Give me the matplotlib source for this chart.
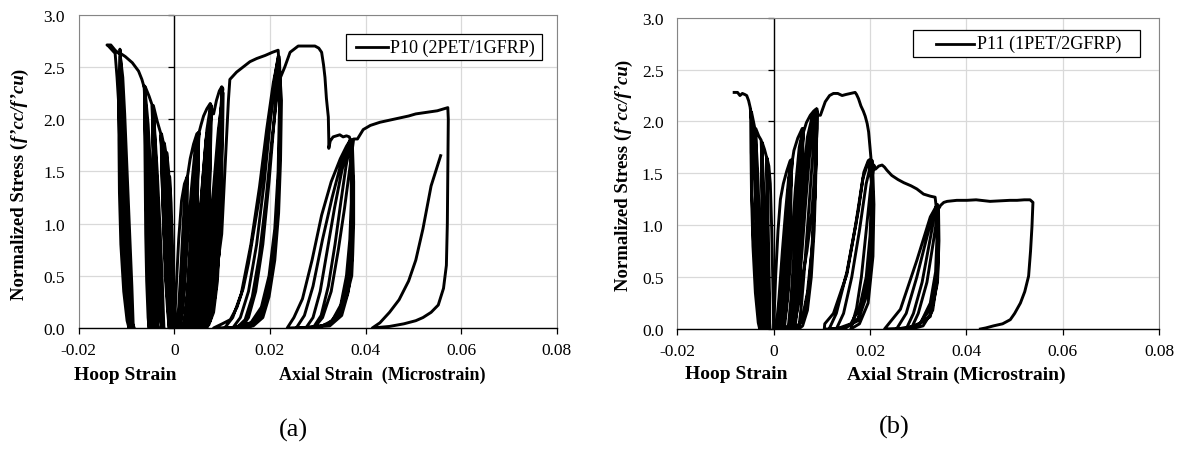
import numpy as np
import matplotlib.pyplot as plt
from matplotlib.patches import Rectangle
from matplotlib.lines import Line2D
from matplotlib.markers import TICKLEFT

plt.rcParams['font.family'] = 'Liberation Serif'

# axis values
x_ticks = [-0.02, 0, 0.02, 0.04, 0.06, 0.08]
x_tick_labels = ["-0.02", "0", "0.02", "0.04", "0.06", "0.08"]
y_ticks = [0.0, 0.5, 1.0, 1.5, 2.0, 2.5, 3.0]
y_tick_labels = ["0.0", "0.5", "1.0", "1.5", "2.0", "2.5", "3.0"]

# ---------------- P10 (2PET/1GFRP): (strain, normalized stress) ----------------
p10_hoop_env1 = [(0.0, 0.0), (-0.0002, 0.4), (-0.0004, 0.8), (-0.0007, 1.2), (-0.0010, 1.45)]
p10_hoop_loops1 = [(-0.0009, 1.1), (-0.0007, 0.7), (-0.0004, 0.3), (-0.0002, 0.08), (-0.0001, 0.0),
                   (-0.0003, 0.35), (-0.0006, 0.8), (-0.0009, 1.2), (-0.0012, 1.5), (-0.0016, 1.68),
                   (-0.0015, 1.3), (-0.0013, 0.85), (-0.0010, 0.4), (-0.0007, 0.1), (-0.0004, 0.0),
                   (-0.0006, 0.35), (-0.0009, 0.8), (-0.0013, 1.3), (-0.0017, 1.65), (-0.0021, 1.77),
                   (-0.0020, 1.4), (-0.0018, 0.95), (-0.0014, 0.45), (-0.0010, 0.12), (-0.0007, 0.0),
                   (-0.0009, 0.35), (-0.0013, 0.85), (-0.0017, 1.35), (-0.0022, 1.75), (-0.0027, 1.86),
                   (-0.0026, 1.5), (-0.0023, 1.0), (-0.0019, 0.5), (-0.0014, 0.15), (-0.0011, 0.0),
                   (-0.0013, 0.3), (-0.0017, 0.8), (-0.0022, 1.35), (-0.0028, 1.84), (-0.0026, 1.45),
                   (-0.0022, 0.95), (-0.0017, 0.45), (-0.0012, 0.1), (-0.0009, 0.0), (-0.0012, 0.35),
                   (-0.0016, 0.85), (-0.0021, 1.35), (-0.0029, 1.87)]
p10_hoop_env2 = [(-0.0036, 1.98), (-0.0044, 2.13)]
p10_hoop_loops2 = [(-0.0044, 1.75), (-0.0042, 1.3), (-0.0039, 0.8), (-0.0034, 0.35), (-0.0029, 0.08),
                   (-0.0026, 0.0), (-0.0028, 0.4), (-0.0032, 0.9), (-0.0037, 1.45), (-0.0042, 1.9),
                   (-0.0045, 2.12), (-0.0043, 1.7), (-0.0040, 1.2), (-0.0036, 0.7), (-0.0031, 0.28),
                   (-0.0025, 0.05), (-0.0022, 0.0), (-0.0025, 0.4), (-0.0030, 0.95), (-0.0036, 1.5),
                   (-0.0042, 1.95), (-0.0046, 2.13), (-0.0045, 1.7), (-0.0044, 1.2), (-0.0042, 0.7),
                   (-0.0039, 0.3), (-0.0036, 0.05), (-0.0034, 0.0), (-0.0036, 0.4), (-0.0039, 0.9),
                   (-0.0042, 1.4), (-0.0045, 1.9), (-0.0047, 2.14)]
p10_hoop_env3 = [(-0.0053, 2.22), (-0.0061, 2.31)]
p10_hoop_loops3 = [(-0.0061, 1.95), (-0.0060, 1.5), (-0.0058, 1.0), (-0.0055, 0.5), (-0.0051, 0.15),
                   (-0.0049, 0.0), (-0.0050, 0.4), (-0.0053, 0.95), (-0.0057, 1.5), (-0.0060, 2.0),
                   (-0.0062, 2.3), (-0.0060, 1.9), (-0.0058, 1.4), (-0.0055, 0.85), (-0.0050, 0.4),
                   (-0.0045, 0.1), (-0.0042, 0.0), (-0.0044, 0.4), (-0.0048, 0.95), (-0.0053, 1.5),
                   (-0.0058, 2.0), (-0.0063, 2.32), (-0.0060, 1.85), (-0.0057, 1.3), (-0.0053, 0.75),
                   (-0.0048, 0.3), (-0.0040, 0.05), (-0.0037, 0.0), (-0.0040, 0.4), (-0.0044, 0.9),
                   (-0.0049, 1.45), (-0.0055, 1.95), (-0.0062, 2.31), (-0.0062, 1.9), (-0.0061, 1.4),
                   (-0.0060, 0.9), (-0.0058, 0.45), (-0.0055, 0.1), (-0.0053, 0.0), (-0.0054, 0.4),
                   (-0.0056, 0.9), (-0.0059, 1.45), (-0.0061, 1.95), (-0.0063, 2.3)]
p10_hoop_env4 = [(-0.0068, 2.38), (-0.0075, 2.46), (-0.0088, 2.54), (-0.0103, 2.60), (-0.0113, 2.63),
                 (-0.0114, 2.67), (-0.0113, 2.62)]
p10_hoop_loops4 = [(-0.0114, 2.35), (-0.0114, 1.9), (-0.0112, 1.3), (-0.0108, 0.75), (-0.0101, 0.3),
                   (-0.0095, 0.06), (-0.0092, 0.0), (-0.0094, 0.35), (-0.0098, 0.85), (-0.0103, 1.45),
                   (-0.0107, 2.0), (-0.0111, 2.45), (-0.0113, 2.6), (-0.0113, 2.3), (-0.0112, 1.8),
                   (-0.0110, 1.25), (-0.0105, 0.7), (-0.0098, 0.25), (-0.0090, 0.04), (-0.0086, 0.0),
                   (-0.0089, 0.4), (-0.0094, 0.95), (-0.0099, 1.5), (-0.0104, 2.05), (-0.0108, 2.4),
                   (-0.0113, 2.6), (-0.0116, 2.3), (-0.0116, 1.8), (-0.0115, 1.3), (-0.0112, 0.8),
                   (-0.0106, 0.35), (-0.0099, 0.07), (-0.0095, 0.0), (-0.0098, 0.4), (-0.0102, 0.95),
                   (-0.0106, 1.5), (-0.0109, 2.0), (-0.0112, 2.4), (-0.0114, 2.62)]
p10_hoop_env5 = [(-0.0124, 2.66), (-0.0133, 2.71), (-0.0141, 2.71)]
p10_hoop_unload = [(-0.0138, 2.70), (-0.0124, 2.63), (-0.0120, 2.4), (-0.0117, 2.18), (-0.0114, 1.7),
                   (-0.0110, 1.22), (-0.0104, 0.7), (-0.0096, 0.26), (-0.0090, 0.07), (-0.0084, 0.0)]

p10_axial_env1 = [(0.0, 0.0), (0.0004, 0.4), (0.0009, 0.85), (0.0015, 1.22), (0.0021, 1.38),
                  (0.0026, 1.44)]
p10_axial_loops1 = [(0.0026, 1.15), (0.0024, 0.8), (0.0021, 0.45), (0.0017, 0.18), (0.0012, 0.05),
                    (0.0008, 0.0), (0.0012, 0.15), (0.0016, 0.5), (0.0020, 0.95), (0.0024, 1.3),
                    (0.0027, 1.45), (0.0026, 1.1), (0.0023, 0.7), (0.0019, 0.35), (0.0013, 0.1),
                    (0.0004, 0.0), (0.0009, 0.2), (0.0014, 0.6), (0.0019, 1.05), (0.0023, 1.35),
                    (0.0028, 1.47)]
p10_axial_env2 = [(0.0033, 1.62), (0.0040, 1.76), (0.0047, 1.86), (0.0050, 1.87)]
p10_axial_loops2 = [(0.0049, 1.55), (0.0047, 1.1), (0.0043, 0.6), (0.0037, 0.25), (0.0031, 0.06),
                    (0.0025, 0.0), (0.0031, 0.2), (0.0037, 0.6), (0.0043, 1.15), (0.0048, 1.6),
                    (0.0051, 1.86), (0.0049, 1.5), (0.0046, 1.0), (0.0041, 0.55), (0.0034, 0.2),
                    (0.0026, 0.05), (0.0018, 0.0), (0.0025, 0.25), (0.0032, 0.7), (0.0039, 1.2),
                    (0.0045, 1.6), (0.0051, 1.87), (0.0050, 1.6), (0.0048, 1.2), (0.0045, 0.75),
                    (0.0040, 0.35), (0.0032, 0.1), (0.0021, 0.0), (0.0028, 0.35), (0.0035, 0.85),
                    (0.0042, 1.35), (0.0048, 1.75), (0.0051, 1.87), (0.0048, 1.45), (0.0044, 0.95),
                    (0.0038, 0.5), (0.0030, 0.18), (0.0020, 0.04), (0.0012, 0.0), (0.0019, 0.3),
                    (0.0027, 0.8), (0.0035, 1.3), (0.0043, 1.7), (0.0052, 1.88)]
p10_axial_env3 = [(0.0056, 1.95), (0.0061, 2.03), (0.0068, 2.10), (0.0075, 2.15)]
p10_axial_loops3 = [(0.0075, 1.85), (0.0073, 1.35), (0.0069, 0.8), (0.0063, 0.35), (0.0055, 0.1),
                    (0.0045, 0.0), (0.0052, 0.2), (0.0059, 0.6), (0.0066, 1.2), (0.0071, 1.7),
                    (0.0076, 2.12), (0.0076, 1.9), (0.0074, 1.45), (0.0071, 0.95), (0.0066, 0.5),
                    (0.0058, 0.2), (0.0047, 0.04), (0.0034, 0.0), (0.0042, 0.3), (0.0051, 0.85),
                    (0.0060, 1.45), (0.0068, 1.9), (0.0076, 2.14), (0.0075, 1.8), (0.0072, 1.25),
                    (0.0067, 0.7), (0.0060, 0.3), (0.0050, 0.08), (0.0038, 0.0), (0.0046, 0.25),
                    (0.0054, 0.7), (0.0062, 1.25), (0.0069, 1.75), (0.0077, 2.13), (0.0076, 1.8),
                    (0.0073, 1.2), (0.0069, 0.65), (0.0062, 0.25), (0.0052, 0.05), (0.0042, 0.0),
                    (0.0049, 0.2), (0.0057, 0.6), (0.0065, 1.1), (0.0072, 1.65), (0.0077, 2.1),
                    (0.0074, 1.75), (0.0070, 1.15), (0.0064, 0.6), (0.0056, 0.25), (0.0045, 0.06),
                    (0.0030, 0.0), (0.0038, 0.25), (0.0047, 0.75), (0.0057, 1.3), (0.0066, 1.8),
                    (0.0078, 2.1)]
p10_axial_env4 = [(0.0082, 2.05), (0.0088, 2.18), (0.0094, 2.27), (0.0099, 2.31)]
p10_axial_loops4 = [(0.0099, 2.0), (0.0097, 1.5), (0.0094, 0.95), (0.0089, 0.5), (0.0081, 0.18),
                    (0.0068, 0.0), (0.0075, 0.2), (0.0083, 0.6), (0.0090, 1.15), (0.0095, 1.7),
                    (0.0100, 2.28), (0.0099, 1.95), (0.0096, 1.45), (0.0093, 0.95), (0.0087, 0.5),
                    (0.0078, 0.18), (0.0066, 0.03), (0.0053, 0.0), (0.0062, 0.25), (0.0073, 0.7),
                    (0.0084, 1.3), (0.0093, 1.85), (0.0100, 2.28), (0.0098, 1.95), (0.0095, 1.4),
                    (0.0091, 0.85), (0.0085, 0.4), (0.0075, 0.12), (0.0058, 0.0), (0.0067, 0.25),
                    (0.0077, 0.7), (0.0086, 1.25), (0.0094, 1.8), (0.0101, 2.3), (0.0100, 2.0),
                    (0.0098, 1.45), (0.0095, 0.9), (0.0090, 0.45), (0.0082, 0.15), (0.0072, 0.03),
                    (0.0063, 0.0), (0.0070, 0.2), (0.0079, 0.6), (0.0088, 1.15), (0.0096, 1.75),
                    (0.0101, 2.29), (0.0097, 1.9), (0.0093, 1.3), (0.0088, 0.75), (0.0080, 0.3),
                    (0.0068, 0.08), (0.0048, 0.0), (0.0058, 0.25), (0.0070, 0.75), (0.0082, 1.35),
                    (0.0092, 1.9), (0.0102, 2.25), (0.0101, 1.9), (0.0098, 1.3), (0.0093, 0.7),
                    (0.0085, 0.3), (0.0075, 0.07), (0.0062, 0.0), (0.0068, 0.1), (0.0085, 0.42),
                    (0.0099, 0.9), (0.0106, 1.54), (0.0111, 2.0), (0.0113, 2.18)]
p10_axial_env5 = [(0.0116, 2.38), (0.0130, 2.45), (0.0144, 2.50), (0.0158, 2.55), (0.0172, 2.58),
                  (0.0190, 2.61), (0.0205, 2.64), (0.0217, 2.66)]
p10_axial_loops5 = [(0.0221, 2.4), (0.0224, 2.18), (0.0222, 1.6), (0.0218, 1.1), (0.0210, 0.65),
                    (0.0198, 0.3), (0.0185, 0.1), (0.0165, 0.02), (0.0140, 0.0), (0.0155, 0.1),
                    (0.0170, 0.35), (0.0185, 0.8), (0.0198, 1.4), (0.0208, 1.95), (0.0215, 2.35),
                    (0.0220, 2.55), (0.0222, 2.2), (0.0220, 1.6), (0.0215, 1.05), (0.0205, 0.6),
                    (0.0192, 0.27), (0.0176, 0.08), (0.0155, 0.01), (0.0122, 0.0), (0.0138, 0.1),
                    (0.0155, 0.35), (0.0172, 0.8), (0.0188, 1.4), (0.0200, 1.95), (0.0212, 2.4),
                    (0.0219, 2.6), (0.0221, 2.2), (0.0219, 1.55), (0.0213, 1.0), (0.0202, 0.55),
                    (0.0188, 0.24), (0.0170, 0.07), (0.0140, 0.01), (0.0105, 0.0), (0.0122, 0.1),
                    (0.0140, 0.33), (0.0160, 0.8), (0.0178, 1.35), (0.0193, 1.9), (0.0207, 2.35),
                    (0.0218, 2.6), (0.0220, 2.15), (0.0217, 1.5), (0.0210, 0.95), (0.0198, 0.5),
                    (0.0182, 0.2), (0.0160, 0.05), (0.0125, 0.005), (0.0082, 0.0), (0.0100, 0.04),
                    (0.0117, 0.08), (0.0131, 0.2), (0.0144, 0.38), (0.0155, 0.62), (0.0165, 0.9),
                    (0.0176, 1.2), (0.0186, 1.54), (0.0196, 1.88), (0.0204, 2.18), (0.0211, 2.42),
                    (0.0217, 2.6), (0.0221, 2.1), (0.0219, 1.5), (0.0214, 1.0), (0.0205, 0.6),
                    (0.0194, 0.3), (0.0180, 0.1), (0.0160, 0.02), (0.0130, 0.0), (0.0148, 0.08),
                    (0.0163, 0.3), (0.0178, 0.7), (0.0192, 1.25), (0.0204, 1.8), (0.0214, 2.2),
                    (0.0222, 2.4)]
p10_axial_env6 = [(0.0231, 2.50), (0.0242, 2.64), (0.0259, 2.70), (0.0294, 2.70), (0.0302, 2.68),
                  (0.0308, 2.64), (0.0312, 2.52), (0.0315, 2.40), (0.0318, 2.2), (0.0322, 2.02),
                  (0.0323, 1.80), (0.0323, 1.72), (0.0326, 1.79), (0.0332, 1.83), (0.0339, 1.84),
                  (0.0346, 1.85), (0.0353, 1.83), (0.0360, 1.84), (0.0366, 1.83), (0.0368, 1.80)]
p10_axial_loops6 = [(0.0370, 1.55), (0.0370, 1.2), (0.0367, 0.85), (0.0360, 0.5), (0.0348, 0.22),
                    (0.0330, 0.07), (0.0305, 0.01), (0.0275, 0.0), (0.0290, 0.1), (0.0305, 0.35),
                    (0.0320, 0.75), (0.0335, 1.15), (0.0350, 1.5), (0.0362, 1.72), (0.0370, 1.80),
                    (0.0372, 1.5), (0.0371, 1.1), (0.0368, 0.75), (0.0360, 0.42), (0.0346, 0.17),
                    (0.0325, 0.04), (0.0290, 0.0), (0.0307, 0.12), (0.0322, 0.4), (0.0336, 0.8),
                    (0.0348, 1.2), (0.0359, 1.55), (0.0369, 1.78), (0.0372, 1.45), (0.0372, 1.05),
                    (0.0369, 0.7), (0.0361, 0.38), (0.0345, 0.14), (0.0320, 0.03), (0.0280, 0.005),
                    (0.0236, 0.0), (0.0250, 0.1), (0.0268, 0.28), (0.0288, 0.65), (0.0308, 1.08),
                    (0.0328, 1.4), (0.0347, 1.62), (0.0360, 1.74), (0.0368, 1.80), (0.0373, 1.45),
                    (0.0373, 1.0), (0.0371, 0.65), (0.0364, 0.35), (0.0350, 0.12), (0.0325, 0.02),
                    (0.0255, 0.0), (0.0272, 0.12), (0.0290, 0.4), (0.0310, 0.85), (0.0330, 1.25),
                    (0.0350, 1.6), (0.0366, 1.78), (0.0372, 1.80), (0.0375, 1.4), (0.0375, 1.0),
                    (0.0373, 0.7), (0.0371, 0.5), (0.0360, 0.3), (0.0347, 0.15), (0.0325, 0.04),
                    (0.0292, 0.0), (0.0310, 0.1), (0.0328, 0.35), (0.0343, 0.75), (0.0356, 1.15),
                    (0.0366, 1.5), (0.0375, 1.81)]
p10_axial_env7 = [(0.0383, 1.81), (0.0395, 1.90), (0.0410, 1.94), (0.0430, 1.97), (0.0450, 1.99),
                  (0.0470, 2.01), (0.0490, 2.03), (0.0505, 2.05), (0.0520, 2.06), (0.0535, 2.07),
                  (0.0550, 2.08), (0.0565, 2.10), (0.0572, 2.11)]
p10_axial_unload = [(0.0573, 2.0), (0.0572, 1.5), (0.0571, 1.0), (0.0569, 0.6), (0.0563, 0.38),
                    (0.0552, 0.22), (0.0537, 0.15), (0.0520, 0.10), (0.0505, 0.07), (0.0480, 0.04),
                    (0.0450, 0.015), (0.0414, 0.0)]
p10_axial_reload = [(0.0430, 0.05), (0.0450, 0.15), (0.0470, 0.27), (0.0490, 0.45), (0.0505, 0.65),
                    (0.0520, 0.95), (0.0537, 1.36), (0.0550, 1.55), (0.0557, 1.65)]

# ---------------- P11 (1PET/2GFRP) ----------------
p11_hoop_env1 = [(0.0, 0.0), (-0.0002, 0.5), (-0.0004, 0.95), (-0.0007, 1.4), (-0.0010, 1.57),
                 (-0.0014, 1.65)]
p11_hoop_loops1 = [(-0.0014, 1.3), (-0.0013, 0.9), (-0.0011, 0.45), (-0.0009, 0.1), (-0.0008, 0.0),
                   (-0.0009, 0.4), (-0.0011, 0.9), (-0.0013, 1.35), (-0.0015, 1.66), (-0.0019, 1.73),
                   (-0.0024, 1.80), (-0.0024, 1.45), (-0.0022, 1.0), (-0.0019, 0.5), (-0.0015, 0.12),
                   (-0.0013, 0.0), (-0.0014, 0.4), (-0.0017, 0.9), (-0.0021, 1.4), (-0.0025, 1.80),
                   (-0.0025, 1.4), (-0.0024, 0.95), (-0.0022, 0.5), (-0.0019, 0.12), (-0.0017, 0.0),
                   (-0.0018, 0.4), (-0.0020, 0.9), (-0.0023, 1.4), (-0.0026, 1.82)]
p11_hoop_env2 = [(-0.0031, 1.86), (-0.0037, 1.93)]
p11_hoop_loops2 = [(-0.0037, 1.55), (-0.0035, 1.05), (-0.0031, 0.5), (-0.0026, 0.12), (-0.0023, 0.0),
                   (-0.0025, 0.4), (-0.0029, 0.95), (-0.0033, 1.5), (-0.0038, 1.92), (-0.0038, 1.5),
                   (-0.0037, 1.0), (-0.0034, 0.5), (-0.0029, 0.12), (-0.0027, 0.0), (-0.0028, 0.4),
                   (-0.0031, 0.95), (-0.0035, 1.5), (-0.0039, 1.93), (-0.0042, 2.0), (-0.0046, 2.09),
                   (-0.0047, 1.7), (-0.0046, 1.3), (-0.0043, 0.8), (-0.0038, 0.35), (-0.0032, 0.06),
                   (-0.0029, 0.0), (-0.0031, 0.4), (-0.0035, 0.95), (-0.0040, 1.55), (-0.0045, 1.95),
                   (-0.0048, 2.12), (-0.0046, 1.65), (-0.0045, 1.31), (-0.0042, 0.85), (-0.0035, 0.35),
                   (-0.0031, 0.1), (-0.0028, 0.0), (-0.0030, 0.35), (-0.0033, 0.85), (-0.0038, 1.45),
                   (-0.0044, 1.95), (-0.0049, 2.14)]
p11_hoop_env3 = [(-0.0052, 2.20), (-0.0056, 2.25), (-0.0060, 2.26), (-0.0065, 2.27), (-0.0070, 2.25),
                 (-0.0075, 2.28), (-0.0082, 2.28)]

p11_axial_env1 = [(0.0, 0.0), (0.0004, 0.5), (0.0009, 0.95), (0.0014, 1.25), (0.0020, 1.40),
                  (0.0027, 1.52), (0.0034, 1.62)]
p11_axial_loops1 = [(0.0033, 1.3), (0.0031, 0.9), (0.0027, 0.45), (0.0021, 0.15), (0.0014, 0.02),
                    (0.0010, 0.0), (0.0015, 0.25), (0.0021, 0.65), (0.0027, 1.1), (0.0032, 1.45),
                    (0.0036, 1.63), (0.0035, 1.35), (0.0033, 1.0), (0.0030, 0.6), (0.0026, 0.25),
                    (0.0020, 0.05), (0.0013, 0.0), (0.0018, 0.3), (0.0024, 0.75), (0.0030, 1.2),
                    (0.0035, 1.5), (0.0038, 1.62), (0.0034, 1.25), (0.0031, 0.8), (0.0026, 0.4),
                    (0.0019, 0.12), (0.0010, 0.01), (0.0005, 0.0), (0.0011, 0.3), (0.0018, 0.75),
                    (0.0025, 1.15), (0.0031, 1.45), (0.0037, 1.62), (0.0036, 1.3), (0.0034, 0.85),
                    (0.0030, 0.4), (0.0024, 0.12), (0.0018, 0.0), (0.0022, 0.25), (0.0027, 0.65),
                    (0.0032, 1.1), (0.0036, 1.45), (0.0039, 1.63)]
p11_axial_env2 = [(0.0042, 1.72), (0.0050, 1.84), (0.0059, 1.93)]
p11_axial_loops2 = [(0.0059, 1.6), (0.0057, 1.15), (0.0053, 0.65), (0.0046, 0.25), (0.0038, 0.05),
                    (0.0030, 0.0), (0.0036, 0.3), (0.0043, 0.8), (0.0050, 1.35), (0.0056, 1.75),
                    (0.0060, 1.93), (0.0058, 1.55), (0.0055, 1.05), (0.0050, 0.55), (0.0042, 0.2),
                    (0.0032, 0.04), (0.0022, 0.0), (0.0029, 0.3), (0.0037, 0.8), (0.0045, 1.35),
                    (0.0053, 1.75), (0.0061, 1.93), (0.0059, 1.65), (0.0058, 1.25), (0.0055, 0.8),
                    (0.0051, 0.4), (0.0045, 0.12), (0.0038, 0.02), (0.0033, 0.0), (0.0039, 0.3),
                    (0.0045, 0.8), (0.0051, 1.3), (0.0056, 1.7), (0.0061, 1.92), (0.0060, 1.55),
                    (0.0058, 1.05), (0.0055, 0.6), (0.0049, 0.22), (0.0042, 0.04), (0.0036, 0.0),
                    (0.0041, 0.3), (0.0047, 0.8), (0.0053, 1.3), (0.0058, 1.7), (0.0062, 1.9)]
p11_axial_env3 = [(0.0068, 1.99), (0.0076, 2.06), (0.0083, 2.10), (0.0088, 2.12)]
p11_axial_loops3 = [(0.0089, 1.85), (0.0086, 1.35), (0.0081, 0.85), (0.0073, 0.4), (0.0062, 0.12),
                    (0.0050, 0.01), (0.0044, 0.0), (0.0050, 0.25), (0.0058, 0.7), (0.0066, 1.2),
                    (0.0074, 1.65), (0.0082, 1.98), (0.0089, 2.12), (0.0089, 1.85), (0.0087, 1.4),
                    (0.0084, 0.95), (0.0078, 0.5), (0.0070, 0.18), (0.0060, 0.03), (0.0052, 0.0),
                    (0.0058, 0.25), (0.0065, 0.65), (0.0072, 1.1), (0.0079, 1.55), (0.0085, 1.9),
                    (0.0090, 2.1), (0.0089, 1.8), (0.0085, 1.25), (0.0079, 0.75), (0.0070, 0.35),
                    (0.0059, 0.09), (0.0045, 0.0), (0.0040, 0.0), (0.0046, 0.3), (0.0054, 0.75),
                    (0.0063, 1.3), (0.0072, 1.75), (0.0080, 2.02), (0.0090, 2.12), (0.0090, 1.93),
                    (0.0085, 1.5), (0.0079, 1.12), (0.0069, 0.75), (0.0059, 0.48), (0.0052, 0.25),
                    (0.0045, 0.09), (0.0038, 0.01), (0.0032, 0.0), (0.0040, 0.3), (0.0050, 0.85),
                    (0.0060, 1.4), (0.0070, 1.85), (0.0080, 2.05), (0.0093, 2.06)]
p11_axial_env4 = [(0.0097, 2.06), (0.0107, 2.19), (0.0116, 2.25), (0.0124, 2.27), (0.0133, 2.27),
                  (0.0142, 2.25), (0.0150, 2.26), (0.0160, 2.27), (0.0169, 2.28), (0.0172, 2.26),
                  (0.0176, 2.22), (0.0181, 2.15), (0.0186, 2.10), (0.0190, 2.05), (0.0194, 1.98),
                  (0.0197, 1.90), (0.0199, 1.80), (0.0201, 1.70), (0.0202, 1.64)]
p11_axial_loops4 = [(0.0203, 1.3), (0.0200, 0.9), (0.0192, 0.5), (0.0178, 0.2), (0.0160, 0.05),
                    (0.0130, 0.0), (0.0145, 0.15), (0.0162, 0.5), (0.0178, 0.95), (0.0192, 1.4),
                    (0.0203, 1.62), (0.0205, 1.3), (0.0202, 0.8), (0.0193, 0.4), (0.0175, 0.1),
                    (0.0150, 0.01), (0.0115, 0.0), (0.0130, 0.15), (0.0152, 0.55), (0.0170, 1.0),
                    (0.0185, 1.45), (0.0198, 1.63), (0.0206, 1.3), (0.0204, 0.8), (0.0195, 0.35),
                    (0.0175, 0.08), (0.0140, 0.0), (0.0105, 0.0), (0.0106, 0.05), (0.0124, 0.15),
                    (0.0152, 0.53), (0.0176, 1.15), (0.0187, 1.51), (0.0196, 1.62), (0.0205, 1.62),
                    (0.0208, 1.2), (0.0206, 0.7), (0.0196, 0.25), (0.0178, 0.05), (0.0160, 0.0),
                    (0.0172, 0.2), (0.0182, 0.5), (0.0192, 0.95), (0.0201, 1.35), (0.0208, 1.58)]
p11_axial_env5 = [(0.0211, 1.54), (0.0218, 1.57), (0.0225, 1.58), (0.0230, 1.56), (0.0235, 1.53),
                  (0.0245, 1.48), (0.0258, 1.44), (0.0270, 1.41), (0.0285, 1.38), (0.0297, 1.35),
                  (0.0311, 1.30), (0.0325, 1.28), (0.0335, 1.27), (0.0337, 1.19)]
p11_axial_loops5 = [(0.0339, 0.9), (0.0336, 0.55), (0.0325, 0.25), (0.0305, 0.06), (0.0275, 0.0),
                    (0.0290, 0.15), (0.0308, 0.45), (0.0322, 0.8), (0.0332, 1.05), (0.0339, 1.18),
                    (0.0341, 0.9), (0.0338, 0.5), (0.0326, 0.2), (0.0300, 0.03), (0.0255, 0.0),
                    (0.0275, 0.15), (0.0297, 0.5), (0.0316, 0.85), (0.0330, 1.1), (0.0340, 1.2),
                    (0.0342, 0.9), (0.0340, 0.5), (0.0330, 0.18), (0.0310, 0.03), (0.0285, 0.0),
                    (0.0300, 0.15), (0.0318, 0.45), (0.0330, 0.8), (0.0338, 1.05), (0.0342, 1.17),
                    (0.0343, 0.85), (0.0340, 0.45), (0.0325, 0.12), (0.0290, 0.01), (0.0230, 0.0),
                    (0.0263, 0.19), (0.0297, 0.66), (0.0325, 1.08), (0.0337, 1.18), (0.0344, 1.17)]
p11_axial_env6 = [(0.0346, 1.19), (0.0353, 1.22), (0.0360, 1.23), (0.0380, 1.24), (0.0401, 1.24),
                  (0.0420, 1.245), (0.0440, 1.235), (0.0449, 1.23), (0.0470, 1.235), (0.0490, 1.24),
                  (0.0505, 1.24), (0.0520, 1.245), (0.0532, 1.245), (0.0538, 1.22)]
p11_axial_unload = [(0.0537, 1.1), (0.0536, 0.99), (0.0533, 0.75), (0.0529, 0.51), (0.0521, 0.36),
                    (0.0512, 0.25), (0.0500, 0.15), (0.0491, 0.09), (0.0475, 0.05), (0.0456, 0.03),
                    (0.0440, 0.01), (0.0429, 0.0)]

W, H = 1188, 452


def px_box(left, top, right, bottom):
    # pixel box -> figure fraction [l, b, w, h]
    return [left / W, 1 - bottom / H, (right - left) / W, (bottom - top) / H]


def join(*segs):
    pts = np.array([p for s in segs for p in s])
    return pts[:, 0], pts[:, 1]


def style_axes(ax):
    ax.set_xlim(-0.02, 0.08)
    ax.set_ylim(0, 3.0)
    ax.set_xticks(x_ticks)
    ax.set_xticklabels(x_tick_labels)
    ax.set_yticks(y_ticks)
    ax.set_yticklabels(y_tick_labels)
    ax.grid(True, color='#d9d9d9', lw=0.9)
    ax.set_axisbelow(True)
    for s in ['left', 'top', 'right']:
        ax.spines[s].set_color('#858585')
        ax.spines[s].set_linewidth(0.8)
    ax.spines['bottom'].set_color('black')
    ax.spines['bottom'].set_linewidth(1.0)
    ax.tick_params(axis='x', direction='out', length=4, width=0.9, pad=6, labelsize=12.5)
    ax.tick_params(axis='y', length=0, pad=10, labelsize=12.5)
    # vertical axis crossing at zero strain, with its own ticks
    ax.axvline(0, color='black', lw=1.0, zorder=2)
    ax.plot(np.zeros(len(y_ticks)), y_ticks, ls='none', marker=TICKLEFT, ms=4,
            mew=0.9, color='black', zorder=2, clip_on=False)


def legend_box(fig, left, top, right, bottom, line_x0, line_x1, text_x, label):
    fig.add_artist(Rectangle((left / W, 1 - bottom / H), (right - left) / W, (bottom - top) / H,
                             transform=fig.transFigure, facecolor='white',
                             edgecolor='black', lw=0.9))
    yc = 1 - (top + bottom) / 2 / H
    fig.add_artist(Line2D([line_x0 / W, line_x1 / W], [yc, yc], transform=fig.transFigure,
                          color='black', lw=2.0))
    fig.text(text_x / W, yc, label, ha='left', va='center', fontsize=13)


def stress_label(fig, x_base, y_mid):
    # bold label with the bold-italic ratio, stacked along a vertical baseline
    pieces = [("Normalized Stress (", 'normal'), ("f\u2019cc/f\u2019cu", 'italic'), (")", 'normal')]
    texts = [fig.text(x_base / W, 0, s, rotation=90, rotation_mode='anchor', ha='left',
                      va='baseline', fontsize=13.5, fontweight='bold', fontstyle=st)
             for s, st in pieces]
    r = fig.canvas.get_renderer()
    lens = [t.get_window_extent(r).height for t in texts]
    y = (H - y_mid) - sum(lens) / 2
    for t, ln in zip(texts, lens):
        t.set_position((x_base / W, y / H))
        y += ln


fig = plt.figure(figsize=(11.88, 4.52), dpi=100)
ax_a = fig.add_axes(px_box(78.8, 15.7, 556.8, 329))
ax_b = fig.add_axes(px_box(677.3, 18.7, 1159.2, 330))

line_kw = dict(color='black', lw=2.1, solid_joinstyle='round', zorder=3)

hx, hy = join(p10_hoop_env1, p10_hoop_loops1, p10_hoop_env2, p10_hoop_loops2, p10_hoop_env3,
              p10_hoop_loops3, p10_hoop_env4, p10_hoop_loops4, p10_hoop_env5, p10_hoop_unload)
ax_a.plot(hx, hy, **line_kw)
axx, axy = join(p10_axial_env1, p10_axial_loops1, p10_axial_env2, p10_axial_loops2, p10_axial_env3,
                p10_axial_loops3, p10_axial_env4, p10_axial_loops4, p10_axial_env5, p10_axial_loops5,
                p10_axial_env6, p10_axial_loops6, p10_axial_env7, p10_axial_unload, p10_axial_reload)
ax_a.plot(axx, axy, **line_kw)

hx, hy = join(p11_hoop_env1, p11_hoop_loops1, p11_hoop_env2, p11_hoop_loops2, p11_hoop_env3)
ax_b.plot(hx, hy, **line_kw)
axx, axy = join(p11_axial_env1, p11_axial_loops1, p11_axial_env2, p11_axial_loops2, p11_axial_env3,
                p11_axial_loops3, p11_axial_env4, p11_axial_loops4, p11_axial_env5, p11_axial_loops5,
                p11_axial_env6, p11_axial_unload)
ax_b.plot(axx, axy, **line_kw)

style_axes(ax_a)
style_axes(ax_b)

stress_label(fig, 24, 184)
stress_label(fig, 628, 175)

fig.text(125 / W, 1 - 376 / H, "Hoop Strain", ha='center', va='center', fontsize=14, fontweight='bold')
fig.text(382.6 / W, 1 - 375 / H, "Axial Strain  (Microstrain)", ha='center', va='center',
         fontsize=13, fontweight='bold')
fig.text(736.4 / W, 1 - 375 / H, "Hoop Strain", ha='center', va='center', fontsize=14, fontweight='bold')
fig.text(956.7 / W, 1 - 375 / H, "Axial Strain (Microstrain)", ha='center', va='center',
         fontsize=14, fontweight='bold')

fig.text(293.6 / W, 1 - 430 / H, "(a)", ha='center', va='center', fontsize=19)
fig.text(894.4 / W, 1 - 427 / H, "(b)", ha='center', va='center', fontsize=19)

legend_box(fig, 345.5, 35, 541.7, 61, 356, 388, 390, "P10 (2PET/1GFRP)")
legend_box(fig, 913, 31, 1139.5, 58, 936, 974, 976.6, "P11 (1PET/2GFRP)")

fig.savefig("out.png", dpi=100)
